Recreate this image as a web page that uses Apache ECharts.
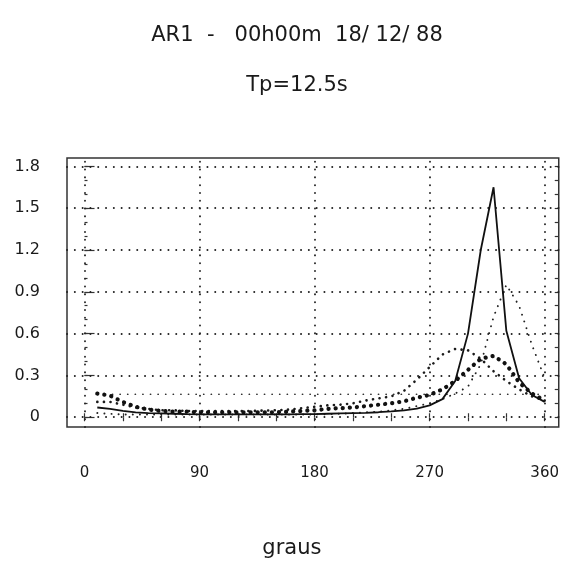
<!DOCTYPE html>
<html>
<head>
<meta charset="utf-8">
<script src="https://cdn.jsdelivr.net/npm/echarts@6/dist/echarts.min.js"></script>
<style>
html,body{margin:0;padding:0;background:#fff;}
#chart{width:562px;height:563px;}
</style>
</head>
<body>
<div id="chart"></div>
<script>
// ---- data ----
var degrees = [10,20,30,40,50,60,70,80,90,100,110,120,130,140,150,160,170,180,190,200,210,220,230,240,250,260,270,280,290,300,310,320,330,340,350,360];
// solid line (main spectrum)
var solidVals = [0.07,0.06,0.045,0.035,0.03,0.028,0.025,0.022,0.02,0.02,0.02,0.02,0.02,0.02,0.02,0.02,0.022,0.022,0.025,0.028,0.03,0.032,0.036,0.042,0.05,0.062,0.085,0.13,0.26,0.6,1.2,1.65,0.62,0.28,0.16,0.11];
// heavy dotted
var heavyVals = [0.17,0.155,0.11,0.075,0.055,0.045,0.04,0.04,0.035,0.035,0.035,0.035,0.035,0.035,0.035,0.04,0.045,0.05,0.06,0.065,0.07,0.08,0.09,0.1,0.115,0.14,0.16,0.2,0.26,0.34,0.42,0.44,0.38,0.25,0.17,0.12];
// medium dotted (peak near 290)
var mediumVals = [0.11,0.11,0.09,0.07,0.06,0.05,0.05,0.045,0.045,0.045,0.045,0.045,0.045,0.048,0.05,0.055,0.065,0.075,0.085,0.09,0.1,0.12,0.135,0.15,0.19,0.27,0.36,0.45,0.49,0.48,0.42,0.33,0.26,0.2,0.15,0.12];
// fine dotted (peak near 330)
var fineVals = [0.03,0.025,0.02,0.02,0.02,0.02,0.02,0.02,0.02,0.02,0.02,0.02,0.02,0.02,0.02,0.02,0.02,0.02,0.022,0.025,0.03,0.035,0.04,0.05,0.06,0.08,0.1,0.13,0.17,0.22,0.38,0.72,0.95,0.8,0.52,0.28];
// flat dotted reference level
var flatVals = [0.165,0.165,0.165,0.165,0.165,0.165,0.165,0.165,0.165,0.165,0.165,0.165,0.165,0.165,0.165,0.165,0.165,0.165,0.165,0.165,0.165,0.165,0.165,0.165,0.165,0.165,0.165,0.165,0.165,0.165,0.165,0.165,0.165,0.165,0.165,0.165];

var xGridValues = [0,90,180,270,360];
var xTickValues = [0,30,60,90,120,150,180,210,240,270,300,330,360];
var yMajorValues = [0,0.3,0.6,0.9,1.2,1.5,1.8];
var yMajorLabels = ['0','0.3','0.6','0.9','1.2','1.5','1.8'];
var yMinorValues = [0,0.1,0.2,0.3,0.4,0.5,0.6,0.7,0.8,0.9,1.0,1.1,1.2,1.3,1.4,1.5,1.6,1.7,1.8];

var titleText = 'AR1  -   00h00m  18/ 12/ 88';
var subTitleText = 'Tp=12.5s';
var xName = 'graus';

// ---- chart ----
function pairs(vals){ return degrees.map(function(d,i){ return [d, vals[i]]; }); }
var FONT = 'DejaVu Sans';
var INK = '#1a1a1a';
var X_MIN = -13.7, X_MAX = 371, Y_MIN = -0.07, Y_MAX = 1.86;

var chart = echarts.init(document.getElementById('chart'), null, {renderer:'canvas'});

var gridMarks = [];
xGridValues.forEach(function(v){ gridMarks.push({xAxis: v}); });
yMajorValues.forEach(function(v){ gridMarks.push({yAxis: v}); });

function yLabelFmt(v){
  for (var i=0;i<yMajorValues.length;i++){ if (Math.abs(yMajorValues[i]-v) < 1e-6) return yMajorLabels[i]; }
  return '';
}

var option = {
  animation: false,
  backgroundColor: '#fff',
  title: [
    {text: titleText, left: 292, top: 20, textAlign: 'center',
     textStyle:{fontFamily: FONT, fontSize: 21, fontWeight: 'normal', color: INK}},
    {text: subTitleText, left: 292, top: 70, textAlign: 'center',
     textStyle:{fontFamily: FONT, fontSize: 21, fontWeight: 'normal', color: INK}}
  ],
  grid: {left: 67, right: 2, top: 158, bottom: 136, show: true, borderColor: '#333', borderWidth: 1.5, backgroundColor: 'transparent'},
  xAxis: [
    {type:'value', min: X_MIN, max: X_MAX, position:'bottom',
     name: xName, nameLocation:'middle', nameGap: 111,
     nameTextStyle:{fontFamily: FONT, fontSize: 21, color: INK, padding:[0,42,0,0]},
     axisLine:{show:false}, splitLine:{show:false},
     axisTick:{show:true, inside:true, length:4, customValues: xTickValues, lineStyle:{color:'#333', width:1.2}},
     axisLabel:{show:true, customValues: xGridValues, margin: 39, fontFamily: FONT, fontSize: 15, color: INK}},
    {type:'value', min: X_MIN, max: X_MAX, position:'top',
     axisLine:{show:false}, splitLine:{show:false},
     axisTick:{show:true, inside:true, length:4, customValues: xTickValues, lineStyle:{color:'#333', width:1.2}},
     axisLabel:{show:false}}
  ],
  yAxis: [
    {type:'value', min: Y_MIN, max: Y_MAX, position:'left',
     axisLine:{show:false}, splitLine:{show:false},
     axisTick:{show:true, inside:true, length:10, customValues: yMajorValues, lineStyle:{color:'#333', width:1.2}},
     axisLabel:{show:true, customValues: yMajorValues, formatter: yLabelFmt, margin: 27, fontFamily: FONT, fontSize: 16, color: INK}},
    {type:'value', min: Y_MIN, max: Y_MAX, position:'left',
     axisLine:{show:false}, splitLine:{show:false},
     axisTick:{show:true, inside:true, length:3, customValues: yMinorValues, lineStyle:{color:'#333', width:1.2}},
     axisLabel:{show:false}},
    {type:'value', min: Y_MIN, max: Y_MAX, position:'right',
     axisLine:{show:false}, splitLine:{show:false},
     axisTick:{show:true, inside:true, length:4, customValues: yMinorValues, lineStyle:{color:'#333', width:1.2}},
     axisLabel:{show:false}}
  ],
  series: [
    {type:'line', name:'grid', data: [], silent: true, z: 1,
     markLine:{silent:true, symbol:['none','none'], label:{show:false}, animation:false,
       lineStyle:{color:'#222', width:1.9, type:[0.1,7.7], cap:'round'}, emphasis:{disabled:true},
       data: gridMarks}},
    {type:'line', name:'flat', data: pairs(flatVals), showSymbol:false, z: 2,
     lineStyle:{color:'#333', width:1.7, type:[0.1,7.5], cap:'round'}},
    {type:'line', name:'fine', data: pairs(fineVals), showSymbol:false, z: 3,
     lineStyle:{color:'#222', width:1.9, type:[0.1,7], cap:'round'}},
    {type:'line', name:'medium', data: pairs(mediumVals), showSymbol:false, z: 3,
     lineStyle:{color:'#1a1a1a', width:2.6, type:[0.1,6.5], cap:'round'}},
    {type:'line', name:'heavy', data: pairs(heavyVals), showSymbol:false, z: 4,
     lineStyle:{color:'#111', width:4.2, type:[0.1,7], cap:'round'}},
    {type:'line', name:'solid', data: pairs(solidVals), showSymbol:false, z: 5,
     lineStyle:{color:'#111', width:1.8}}
  ]
};
chart.setOption(option);
</script>
</body>
</html>
